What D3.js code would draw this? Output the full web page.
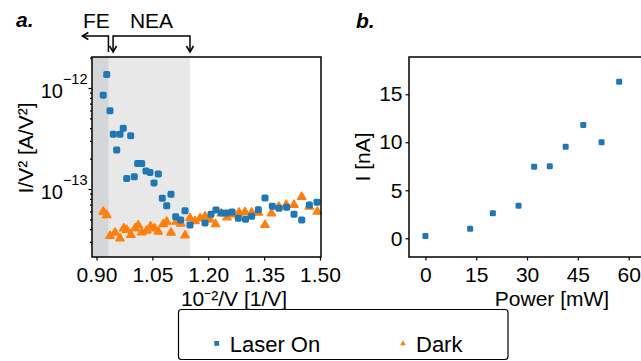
<!DOCTYPE html>
<html>
<head>
<meta charset="utf-8">
<script src="https://cdn.jsdelivr.net/npm/d3@7"></script>
<style>
  body { margin: 0; background: #fff; }
  svg { display: block; font-family: "Liberation Sans", Arial, sans-serif; }
</style>
</head>
<body>
<div id="chart"></div>
<script>
// panel a: I/V^2 vs 1/V (log y)
const laserInvV = [0.918, 0.9274, 0.9362, 0.9451, 0.9542, 0.9631, 0.9719, 0.9811, 0.9918, 1.0015,
  1.0106, 1.0213, 1.0329, 1.0436, 1.0544, 1.0659, 1.0766, 1.0885, 1.100, 1.1126,
  1.126, 1.1376, 1.151, 1.1913, 1.2074, 1.2208, 1.2356, 1.2495, 1.2638, 1.2807,
  1.300, 1.3166, 1.3344, 1.3523, 1.372, 1.3899, 1.4106, 1.4302, 1.4509, 1.4713, 1.4919];
const laserIV2 = [8.5e-13, 1.36e-12, 5.96e-13, 3.48e-13, 2.43e-13, 3.48e-13, 3.99e-13, 1.27e-13, 3.36e-13, 1.32e-13,
  1.79e-13, 1.79e-13, 1.51e-13, 1.46e-13, 1.15e-13, 1.41e-13, 8.09e-14, 6.82e-14, 8.87e-14, 5.32e-14,
  4.93e-14, 6.10e-14, 4.41e-14, 4.60e-14, 5.62e-14, 6.19e-14, 5.78e-14, 5.78e-14, 5.92e-14, 5.13e-14,
  5.01e-14, 5.37e-14, 6.24e-14, 8.15e-14, 6.75e-14, 6.44e-14, 6.59e-14, 5.62e-14, 4.93e-14, 6.95e-14, 7.38e-14];

const darkInvV = [0.918, 0.9274, 0.9362, 0.9497, 0.9631, 0.973, 0.9811, 0.9921, 1.0034, 1.0122,
  1.0213, 1.0348, 1.045, 1.0557, 1.0659, 1.0793, 1.0885, 1.100, 1.1142, 1.1263,
  1.1376, 1.151, 1.1644, 1.1779, 1.1913, 1.2047, 1.2195, 1.235, 1.2503, 1.2659,
  1.2826, 1.2987, 1.3166, 1.3344, 1.3523, 1.3698, 1.3894, 1.4093, 1.4302, 1.4509, 1.4713, 1.4928];
const darkIV2 = [5.96e-14, 5.5e-14, 3.43e-14, 3.69e-14, 3.25e-14, 4.08e-14, 3.93e-14, 3.51e-14, 4.08e-14, 4.36e-14,
  3.73e-14, 3.88e-14, 4.27e-14, 4.08e-14, 3.78e-14, 4.50e-14, 4.74e-14, 3.69e-14, 4.74e-14, 4.53e-14,
  3.47e-14, 5.16e-14, 4.80e-14, 5.13e-14, 5.37e-14, 4.97e-14, 4.48e-14, 5.74e-14, 5.23e-14, 5.62e-14,
  5.85e-14, 5.89e-14, 5.85e-14, 5.85e-14, 4.41e-14, 5.74e-14, 6.68e-14, 6.95e-14, 6.95e-14, 8.34e-14, 6.68e-14, 5.96e-14];

const xTicksA = [0.90, 1.05, 1.20, 1.35, 1.50];
const yTicksA = [1e-12, 1e-13];
const feEdge = 0.932;     // FE / NEA boundary
const neaStart = 0.9445;  // left arrow of the NEA bracket
const neaEnd = 1.151;
const feArrowEnd = 0.862;

// panel b: photocurrent vs power
const power = [0, 13.2, 19.9, 27.5, 32.1, 36.7, 41.4, 46.6, 52.0, 57.2];
const current = [0.24, 1.0, 2.6, 3.4, 7.46, 7.5, 9.54, 11.8, 10.0, 16.3];
const xTicksB = [0, 15, 30, 45, 60];
const yTicksB = [0, 5, 10, 15];

const blue = "#1f77b4", orange = "#ff7f0e";
const fs = 21;

const svg = d3.select("#chart").append("svg")
  .attr("width", 641).attr("height", 361);
svg.append("rect").attr("width", 641).attr("height", 361).attr("fill", "#fff");

// ---------- panel a ----------
const a = { left: 92, right: 321, top: 57, bottom: 257 };
const xA = d3.scaleLinear().domain([0.8879, 1.5027]).range([a.left, a.right]);
const yA = d3.scaleLog().domain([Math.pow(10, -13.673), Math.pow(10, -11.693)]).range([a.bottom, a.top]);

const gA = svg.append("g");

// shaded regions
gA.append("rect")
  .attr("x", a.left).attr("y", a.top)
  .attr("width", xA(neaEnd) - a.left).attr("height", a.bottom - a.top)
  .attr("fill", "#e8e8e8");
gA.append("rect")
  .attr("x", a.left).attr("y", a.top)
  .attr("width", xA(feEdge) - a.left).attr("height", a.bottom - a.top)
  .attr("fill", "#d5d6d8");

// dark points (triangles) then laser points (squares)
const tri = d3.symbol().type(d3.symbolTriangle).size(30);
gA.selectAll(".dark").data(darkInvV).enter()
  .append("path")
  .attr("d", tri)
  .attr("transform", (d, i) => `translate(${xA(d)},${yA(darkIV2[i])})`)
  .attr("fill", orange).attr("stroke", orange)
  .attr("stroke-width", 1.4).attr("stroke-linejoin", "round");

gA.selectAll(".laser").data(laserInvV).enter()
  .append("rect")
  .attr("x", d => xA(d) - 3.5)
  .attr("y", (d, i) => yA(laserIV2[i]) - 3.5)
  .attr("width", 7).attr("height", 7).attr("rx", 1.8)
  .attr("fill", blue);

// axes
gA.append("g")
  .attr("transform", `translate(0,${a.bottom})`)
  .call(d3.axisBottom(xA).tickValues(xTicksA).tickFormat(d3.format(".2f"))
    .tickSize(3.5).tickPadding(7).tickSizeOuter(0));

const minorA = [];
for (let e = -14; e <= -12; e++) {
  for (let m = 2; m <= 9; m++) {
    const v = m * Math.pow(10, e);
    if (v > yA.domain()[0] && v < yA.domain()[1]) minorA.push(v);
  }
}
gA.append("g")
  .attr("transform", `translate(${a.left},0)`)
  .call(d3.axisLeft(yA).tickValues(minorA).tickFormat("").tickSize(2).tickSizeOuter(0));

const ayA = gA.append("g")
  .attr("transform", `translate(${a.left},0)`)
  .call(d3.axisLeft(yA).tickValues(yTicksA).tickSize(3.5).tickPadding(1).tickSizeOuter(0));
ayA.selectAll(".tick text").each(function (d) {
  const t = d3.select(this).text(null).attr("dy", "0.45em").attr("font-size", 20);
  t.append("tspan").text("10");
  t.append("tspan").attr("dy", -14).attr("font-size", 14.5)
    .text("\u2212" + Math.round(-Math.log10(d)));
});

gA.append("rect")
  .attr("x", a.left).attr("y", a.top)
  .attr("width", a.right - a.left).attr("height", a.bottom - a.top)
  .attr("fill", "none").attr("stroke", "#000").attr("stroke-width", 1.5);

// FE / NEA annotations
const ann = gA.append("g").attr("stroke", "#000").attr("stroke-width", 1.5).attr("fill", "none");
const yLine = 36, yTip = 52;
ann.append("path").attr("d", `M${xA(feEdge)},${yTip}V${yLine}H${xA(feArrowEnd)}`);
ann.append("path").attr("d", `M${xA(feArrowEnd) + 6},${yLine - 3.5}L${xA(feArrowEnd)},${yLine}L${xA(feArrowEnd) + 6},${yLine + 3.5}`);
ann.append("path").attr("d", `M${xA(neaStart)},${yTip}V${yLine}H${xA(neaEnd)}V${yTip}`);
[neaStart, neaEnd].forEach(v => {
  ann.append("path").attr("d", `M${xA(v) - 3.5},${yTip - 6}L${xA(v)},${yTip}L${xA(v) + 3.5},${yTip - 6}`);
});
gA.append("text").attr("x", xA((feArrowEnd + feEdge) / 2) + 1).attr("y", 28)
  .attr("text-anchor", "middle").attr("font-size", fs).text("FE");
gA.append("text").attr("x", xA((neaStart + neaEnd) / 2)).attr("y", 28)
  .attr("text-anchor", "middle").attr("font-size", fs).text("NEA");

gA.append("text").attr("x", 16).attr("y", 27)
  .attr("font-size", fs).attr("font-weight", "bold").attr("font-style", "italic").text("a.");
gA.append("text").attr("transform", "translate(33,148) rotate(-90)")
  .attr("text-anchor", "middle").attr("font-size", fs).text("I/V² [A/V²]");
gA.append("text").attr("x", 234).attr("y", 306)
  .attr("text-anchor", "middle").attr("font-size", fs).text("10⁻²/V [1/V]");

// ---------- panel b ----------
const b = { left: 409, right: 660, top: 57, bottom: 257 };
const xB = d3.scaleLinear().domain([-4.85, 69.25]).range([b.left, b.right]);
const yB = d3.scaleLinear().domain([-1.95, 18.88]).range([b.bottom, b.top]);
const gB = svg.append("g");

gB.selectAll(".pt").data(power).enter()
  .append("rect")
  .attr("x", d => xB(d) - 3)
  .attr("y", (d, i) => yB(current[i]) - 3)
  .attr("width", 6).attr("height", 6).attr("rx", 1.3)
  .attr("fill", blue);

gB.append("g")
  .attr("transform", `translate(0,${b.bottom})`)
  .call(d3.axisBottom(xB).tickValues(xTicksB).tickSize(3.5).tickPadding(7).tickSizeOuter(0));
gB.append("g")
  .attr("transform", `translate(${b.left},0)`)
  .call(d3.axisLeft(yB).tickValues(yTicksB).tickSize(3.5).tickPadding(3).tickSizeOuter(0));

gB.append("rect")
  .attr("x", b.left).attr("y", b.top)
  .attr("width", b.right - b.left).attr("height", b.bottom - b.top)
  .attr("fill", "none").attr("stroke", "#000").attr("stroke-width", 1.5);

gB.append("text").attr("x", 356).attr("y", 28)
  .attr("font-size", fs).attr("font-weight", "bold").attr("font-style", "italic").text("b.");
gB.append("text").attr("transform", "translate(370,157) rotate(-90)")
  .attr("text-anchor", "middle").attr("font-size", fs).text("I [nA]");
gB.append("text").attr("x", 552).attr("y", 306)
  .attr("text-anchor", "middle").attr("font-size", fs).text("Power [mW]");

// shared axis styling
svg.selectAll(".domain").remove();
svg.selectAll(".tick line").attr("stroke", "#000").attr("stroke-width", 1.2);
svg.selectAll(".tick text").attr("fill", "#000").attr("font-family", "Liberation Sans, Arial, sans-serif");
svg.selectAll(".tick text").filter(function () { return !this.getAttribute("font-size"); })
  .attr("font-size", fs);

// ---------- legend ----------
const lg = svg.append("g");
lg.append("rect").attr("x", 178.5).attr("y", 309.5).attr("width", 329.5).attr("height", 50)
  .attr("rx", 3).attr("fill", "#fff").attr("stroke", "#000").attr("stroke-width", 1.2);
const series = ["Laser On", "Dark"];
const legendX = d3.scalePoint().domain(series).range([216.7, 403]);
lg.append("rect").attr("x", legendX("Laser On") - 2.4).attr("y", 341).attr("width", 4.8).attr("height", 4.8)
  .attr("fill", blue);
lg.append("path").attr("d", d3.symbol().type(d3.symbolTriangle).size(14))
  .attr("transform", `translate(${legendX("Dark")},343.5)`).attr("fill", orange);
series.forEach(s => {
  lg.append("text").attr("x", legendX(s) + 13).attr("y", 352)
    .attr("font-size", 22).text(s);
});
</script>
</body>
</html>
